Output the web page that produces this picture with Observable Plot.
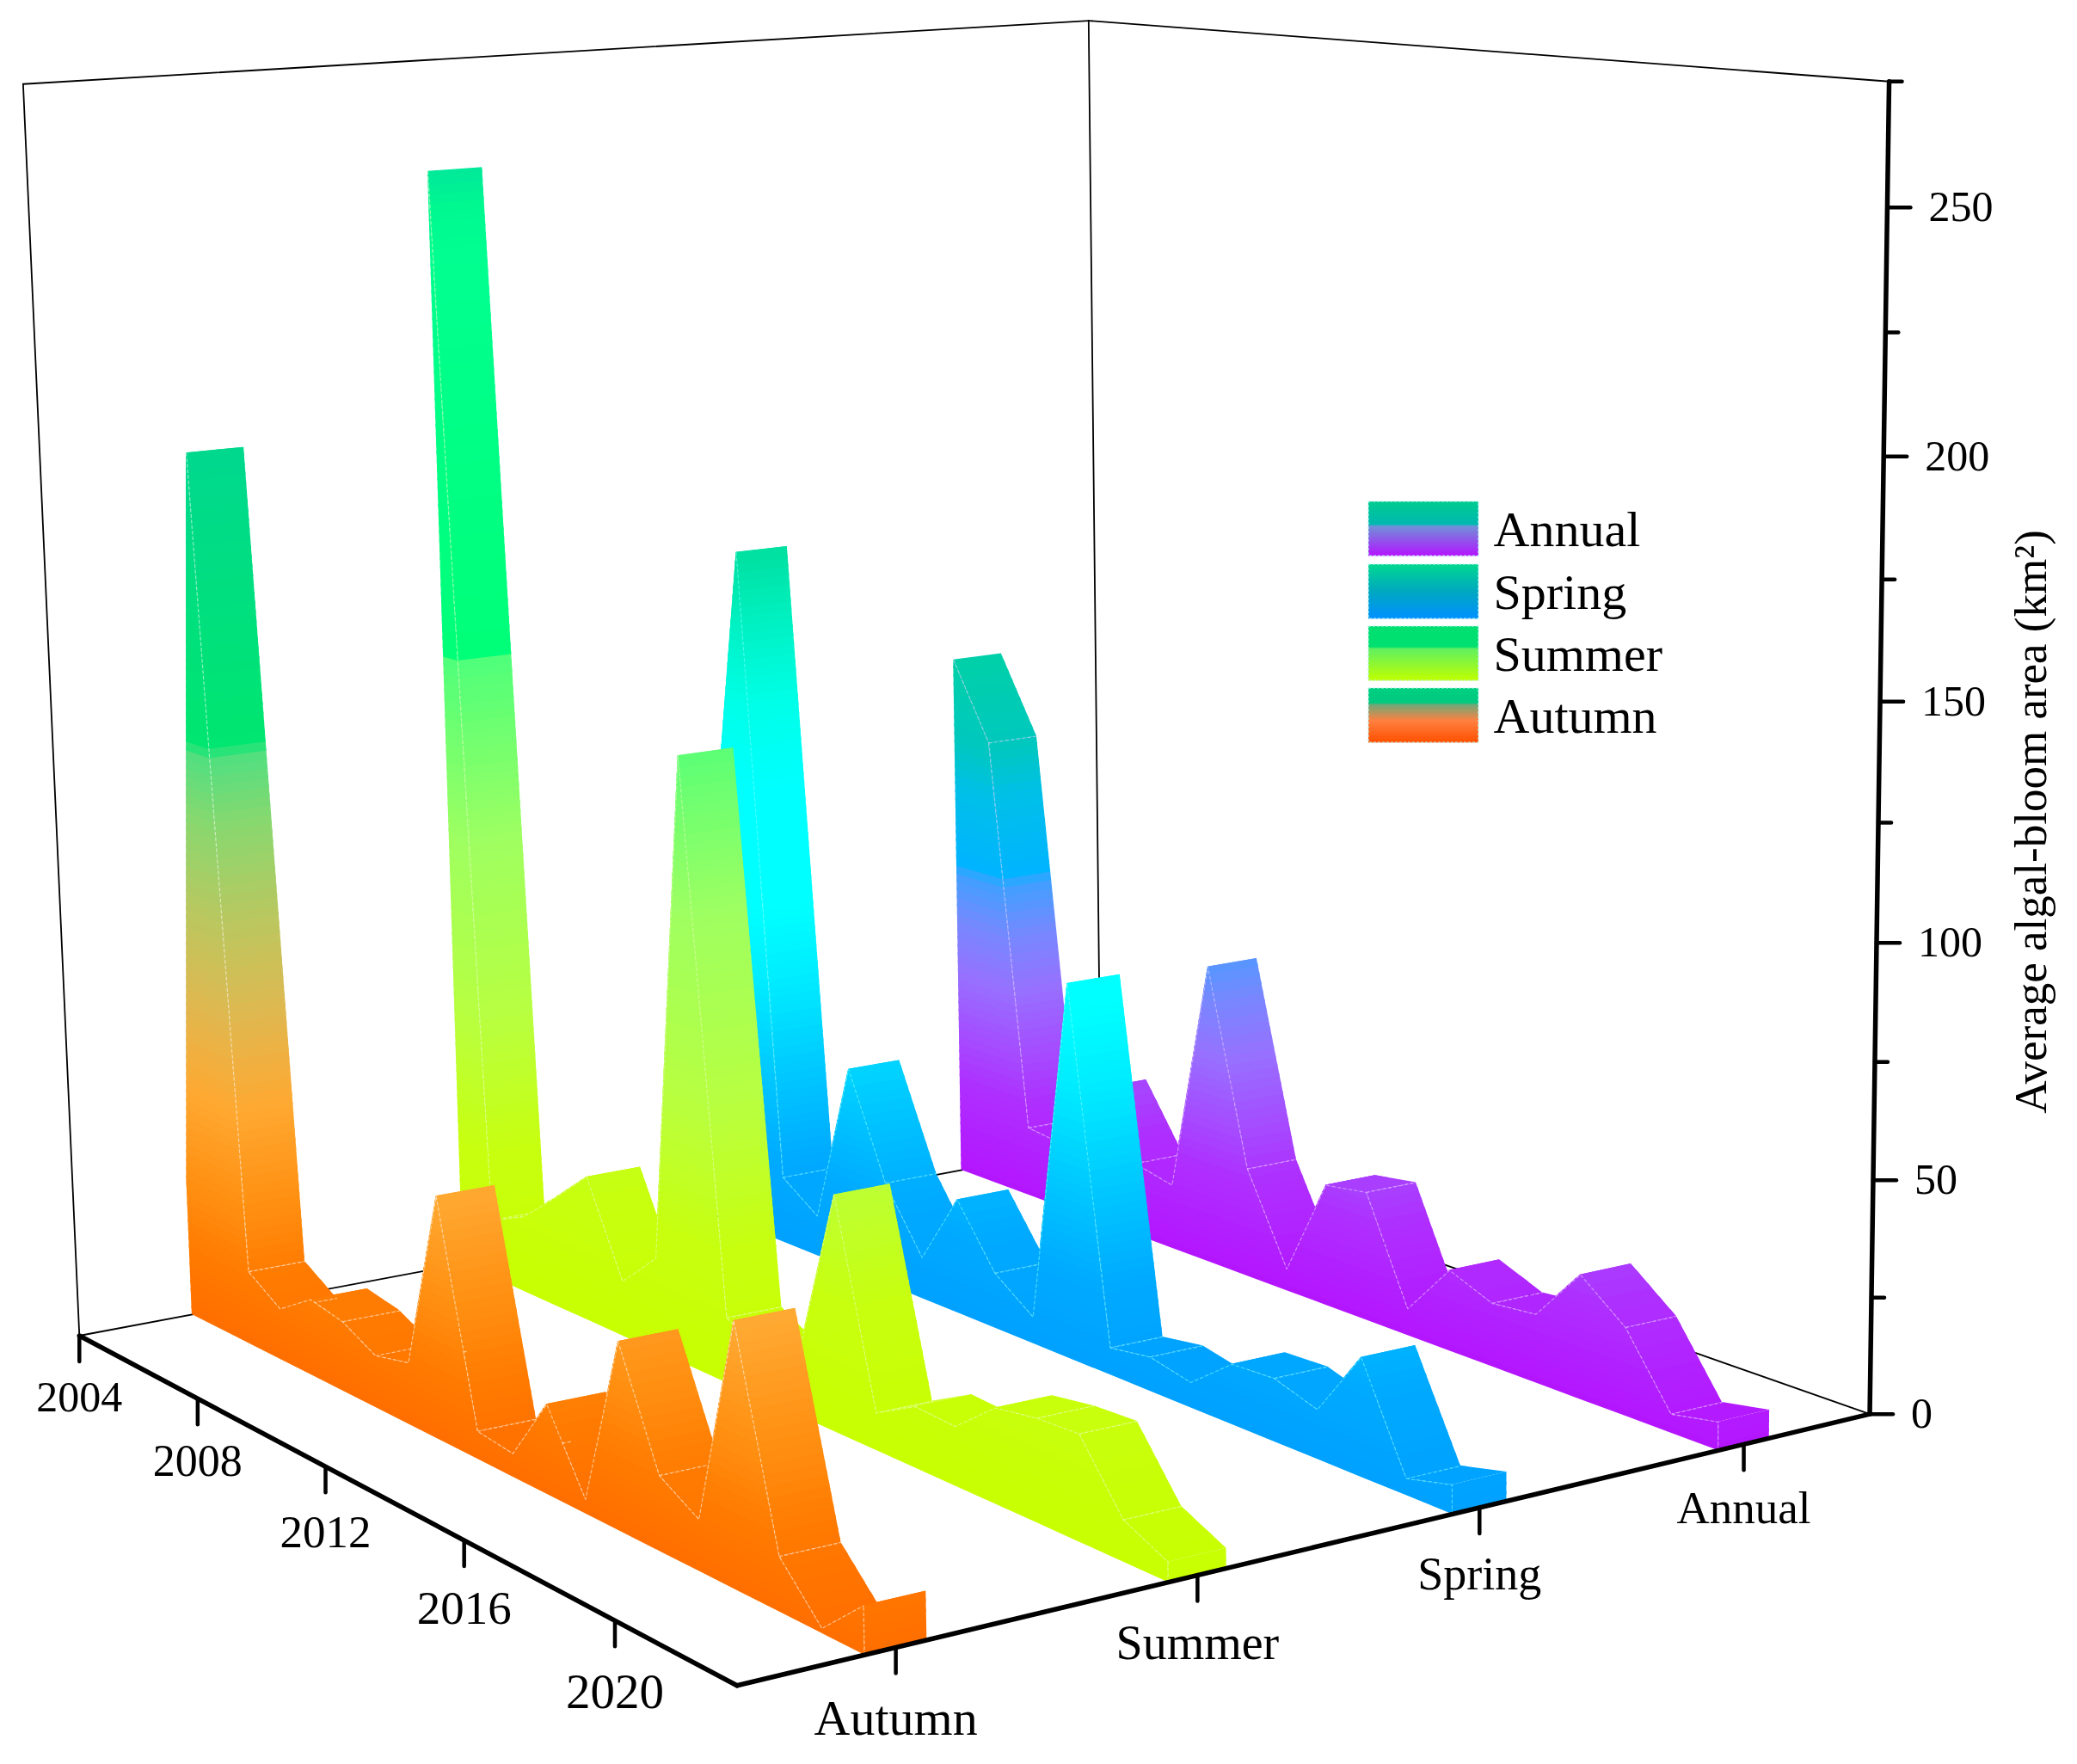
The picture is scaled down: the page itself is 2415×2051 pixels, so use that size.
<!DOCTYPE html>
<html>
<head>
<meta charset="utf-8">
<style>html,body{margin:0;padding:0;background:#fff}svg{display:block}</style>
<script src="https://cdn.jsdelivr.net/npm/d3@7"></script>
<script src="https://cdn.jsdelivr.net/npm/@observablehq/plot@0.6"></script>
</head>
<body>
<div id="chart"></div>
<script>
const years = [2004,2005,2006,2007,2008,2009,2010,2011,2012,2013,2014,2015,2016,2017,2018,2019,2020,2021,2022,2023];
const categories = ["Autumn","Summer","Spring","Annual"];
const autumn = [30,195.3,16.5,11.5,17,15.5,11.5,13.5,52.5,6,5,19,3,39,15.5,10.5,53.5,11,1,9.5];
const summer = [250.5,13.5,17.5,25,33,12.5,21,134,14.5,9.5,14.5,51,8,13,12.5,20,21.5,22,8.5,4];
const spring = [80,160,15.5,9.5,47,23.5,9.5,26,12.5,6,83,6,7.5,5.5,13,13.5,10.5,25,3.5,6];
const annual = [125.5,107.5,16.5,15.5,32,17,15,69,25,5,27.5,29,6,18,14,15,27,19,4,6];
const yearTicks = [2004,2008,2012,2016,2020];
const yearLabelSize = [50,52,53,55,57];
const yearLabelDrop = [72,73.5,76.5,79.5,83];
const categoryLabelSize = [58,56,54,53];
const categoryLabelDrop = [83,80,77.5,75];
const valueTicks = [0,25,50,75,100,125,150,175,200,225,250,275];
const valueLabels = [0,50,100,150,200,250];
const legendNames = ["Annual","Spring","Summer","Autumn"];

const colorStops = {
  Autumn: [[0,"#ff6e00"],[15,"#ff7a00"],[30,"#ff8e10"],[52,"#ffa830"],[73,"#e0b850"],[95,"#b8c860"],[115,"#88d870"],[130,"#50e080"],[132,"#00e670"],[196,"#00d88e"]],
  Summer: [[0,"#c8ff00"],[30,"#c8ff10"],[60,"#b8ff40"],[100,"#9fff60"],[141,"#50ff7a"],[143,"#00ff78"],[232,"#00ff90"],[243,"#00f890"],[251,"#00e89a"]],
  Spring: [[0,"#00a0ff"],[20,"#00aaff"],[40,"#00c8ff"],[60,"#00eaff"],[78,"#00ffff"],[105,"#00ffff"],[125,"#00ffe8"],[145,"#00f0c0"],[160,"#00e0a0"]],
  Annual: [[0,"#b414ff"],[23,"#ae30ff"],[49,"#9870ff"],[62,"#7888ff"],[74,"#40a0ff"],[77,"#00b4ff"],[95,"#00c0e8"],[106,"#00c8c0"],[126,"#00d0a8"]]
};
const legendStops = {
  Annual: [[0,"#00cc90"],[.42,"#00b8b0"],[.46,"#7090d8"],[1,"#b414ff"]],
  Spring: [[0,"#00d890"],[.5,"#00a8c0"],[1,"#0090ff"]],
  Summer: [[0,"#00e070"],[.38,"#00e070"],[.42,"#60f060"],[1,"#c0ff00"]],
  Autumn: [[0,"#00d080"],[.27,"#00c880"],[.31,"#70a878"],[.6,"#ff8040"],[1,"#ff5000"]]
};
const dotColors = {Autumn:"#ffffff",Summer:"#eaffc0",Spring:"#80ffff",Annual:"#ecd0ff"};

const W = 2415, H = 2051, ZMAX = 275, HALF = 0.025;
const font = "Liberation Serif";

// Perspective camera: fitted from the reference's box corners and axis ticks.
const anchors = [
  [0,0,0,92,1552],[1,0,0,856,1958],[1,1,0,2172,1643],[0,1,0,1279,1329],
  [0,0,1,26,97],[0,1,1,1266,24],[1,1,1,2195,94],
  [1,1,50/275,2180,1372],[1,1,200/275,2191,530],[1,1,250/275,2193,241],
  [4/19,0,0,229,1627],[8/19,0,0,378,1705],[12/19,0,0,540,1790],[16/19,0,0,715,1883],
  [1,.125,0,1041,1916],[1,.375,0,1392,1831],[1,.625,0,1719,1755],[1,.875,0,2027,1678]
];
function fitCamera() {
  const rows = [];
  for (const [u,v,w,x,y] of anchors) {
    rows.push([u,v,w,1,0,0,0,0,-x*u,-x*v,-x*w,x]);
    rows.push([0,0,0,0,u,v,w,1,-y*u,-y*v,-y*w,y]);
  }
  const n = 11, A = d3.range(n).map(() => new Array(n+1).fill(0));
  for (const r of rows) for (let i=0;i<n;i++) for (let j=0;j<=n;j++) A[i][j] += r[i]*r[j];
  for (let c=0;c<n;c++) {
    let p=c; for (let r=c+1;r<n;r++) if (Math.abs(A[r][c])>Math.abs(A[p][c])) p=r;
    [A[c],A[p]]=[A[p],A[c]];
    for (let r=0;r<n;r++) if (r!==c) { const f=A[r][c]/A[c][c]; for (let j=c;j<=n;j++) A[r][j]-=f*A[c][j]; }
  }
  return A.map((r,i)=>r[n]/r[i]);
}
const P = fitCamera();
function project(year, v, z) {
  const a = (year-2004)/19, c = z/ZMAX;
  const d = P[8]*a+P[9]*v+P[10]*c+1;
  return [(P[0]*a+P[1]*v+P[2]*c+P[3])/d, (P[4]*a+P[5]*v+P[6]*c+P[7])/d];
}

function ramp(stops) {
  return d3.scaleLinear().domain(stops.map(d=>d[0])).range(stops.map(d=>d[1])).clamp(true);
}

const DZ = 2, OV = 0.7;

function wallMarks(name, values, index) {
  const vc = (index+0.5)/4, v0 = vc-HALF, v1 = vc+HALF;
  const col = ramp(colorStops[name]);
  const n = years.length, zTop = d3.max(values);
  let key = 0;

  // sloped top surface, one small strip per colour band, far to near
  const ribbon = [];
  for (let i=0;i<n-1;i++) {
    const a = values[i], b = values[i+1], lo = Math.min(a,b), hi = Math.max(a,b);
    const cuts = [lo];
    for (let z=Math.ceil(lo/DZ+1e-6)*DZ; z<hi; z+=DZ) cuts.push(z);
    cuts.push(hi);
    for (let j=0;j<cuts.length-1;j++) {
      const zlo = Math.max(lo, cuts[j]-OV), zhi = cuts[j+1], c = col((cuts[j]+zhi)/2);
      key++;
      for (const z of [zlo,zhi]) {
        const t = hi===lo ? (z===zlo?0:1) : (z-a)/(b-a);
        const yr = years[i]+t;
        const f = project(yr,v0,z), k = project(yr,v1,z);
        ribbon.push({x1:f[0],y1:f[1],x2:k[0],y2:k[1],k:key,c});
      }
    }
  }

  // near face and end cap, one area per colour band
  const face = [], cap = [];
  const zEnd = values[n-1];
  for (let zb=0; zb<zTop; zb+=DZ) {
    const b0 = Math.max(0,zb-OV), b1 = zb+DZ, c = col(zb+DZ/2);
    key++;
    const pts = [];
    for (let i=0;i<n;i++) {
      pts.push([years[i],values[i]]);
      if (i<n-1) {
        const a=values[i], b=values[i+1];
        const ts = [b0,b1].filter(z=>(a<z&&b>z)||(a>z&&b<z)).map(z=>(z-a)/(b-a)).sort(d3.ascending);
        for (const t of ts) pts.push([years[i]+t,a+(b-a)*t]);
      }
    }
    for (const [yr,top] of pts) {
      const l = project(yr,v0,Math.min(top,b0)), u = project(yr,v0,Math.min(top,b1));
      face.push({x1:l[0],y1:l[1],x2:u[0],y2:u[1],k:key,c});
    }
    if (zb<zEnd) {
      key++;
      const zh = Math.min(zEnd,b1);
      for (const v of [v0,v1]) {
        const l = project(2023,v,b0), u = project(2023,v,zh);
        cap.push({x1:l[0],y1:l[1],x2:u[0],y2:u[1],k:key,c});
      }
    }
  }

  const pt = (k,yr,v,z) => { const p=project(yr,v,z); return {k,x:p[0],y:p[1]}; };
  // a cross line on a crest reached by a steep rise sits on the white silhouette, so it is not seen
  const cross = years.flatMap((yr,i)=> (i===0 || values[i]-values[i-1]>3) ? [] : [pt(i,yr,v0,values[i]),pt(i,yr,v1,values[i])]);
  const firstDot = values[0]<values[1] ? 1 : 0;
  const front = years.map((yr,i)=>pt("f",yr,v0,values[i])).slice(firstDot);
  front.push(pt("e",2023,v0,0),pt("e",2023,v0,zEnd));

  const dots = {stroke:dotColors[name],strokeWidth:1.2,strokeDasharray:"3.5,3",strokeOpacity:0.55};
  const area = {x1:"x1",y1:"y1",x2:"x2",y2:"y2",z:"k",fill:"c"};
  return [
    Plot.area(ribbon,area),
    Plot.line(cross,{x:"x",y:"y",z:"k",...dots}),
    Plot.area(cap,area),
    Plot.area(face,area),
    Plot.line(front,{x:"x",y:"y",z:"k",...dots})
  ];
}

function edge(a,b,k) {
  const p=project(...a), q=project(...b);
  return [{k,x:p[0],y:p[1]},{k,x:q[0],y:q[1]}];
}
const thinEdges = [
  ...edge([2004,0,0],[2004,0,ZMAX],"a"), ...edge([2004,0,ZMAX],[2004,1,ZMAX],"b"),
  ...edge([2004,1,ZMAX],[2023,1,ZMAX],"c"), ...edge([2004,1,ZMAX],[2004,1,0],"d"),
  ...edge([2004,0,0],[2004,1,0],"e"), ...edge([2004,1,0],[2023,1,0],"f")
];
const thickEdges = [
  ...edge([2004,0,0],[2023,0,0],"g"), ...edge([2023,0,0],[2023,1,0],"h"), ...edge([2023,1,0],[2023,1,ZMAX],"i")
];
const tick = (p,dx,dy) => ({x1:p[0],y1:p[1],x2:p[0]+dx,y2:p[1]+dy});
const yearTickRows = yearTicks.map(y=>tick(project(y,0,0),0,30));
const catTickRows = categories.map((c,i)=>tick(project(2023,(i+.5)/4,0),0,30));
const valueTickRows = valueTicks.map(v=>tick(project(2023,1,v),v%50===0?27:15,0));
const yearLabelRows = yearTicks.map((y,i)=>{const p=project(y,0,0);return {t:String(y),x:p[0],y:p[1]+yearLabelDrop[i],s:yearLabelSize[i]};});
const catLabelRows = categories.map((c,i)=>{const p=project(2023,(i+.5)/4,0);return {t:c,x:p[0],y:p[1]+categoryLabelDrop[i],s:categoryLabelSize[i]};});
const valueLabelRows = valueLabels.map(v=>{const p=project(2023,1,v);return {t:String(v),x:p[0]+48,y:p[1]};});

// legend swatches
const legendTop = [583,656,728,800], legendH = 63, legendX = [1591,1719];
const legendRows = legendNames.flatMap((name,i)=>{
  const st = legendStops[name], c = ramp(st);
  return d3.range(legendH).map(j=>({x1:legendX[0],x2:legendX[1],y1:legendTop[i]+j,y2:legendTop[i]+j+1.4,c:c((j+.5)/legendH)}));
});
const legendFrames = legendNames.map((name,i)=>({x1:legendX[0],x2:legendX[1],y1:legendTop[i],y2:legendTop[i]+legendH}));
const legendText = legendNames.map((name,i)=>({t:name,x:1736,y:legendTop[i]+33}));

const textOpts = {x:"x",y:"y",text:"t",fontFamily:font,fill:"#000"};
const chart = Plot.plot({
  width:W, height:H, margin:0,
  style:{background:"#fff",overflow:"visible"},
  x:{domain:[0,W],range:[0,W],axis:null},
  y:{domain:[0,H],range:[0,H],axis:null},
  color:{type:"identity"},
  marks:[
    Plot.line(thinEdges,{x:"x",y:"y",z:"k",stroke:"#000",strokeWidth:1.8}),
    ...wallMarks("Annual",annual,3),
    ...wallMarks("Spring",spring,2),
    ...wallMarks("Summer",summer,1),
    ...wallMarks("Autumn",autumn,0),
    Plot.line(thickEdges,{x:"x",y:"y",z:"k",stroke:"#000",strokeWidth:5.5,strokeLinecap:"round",strokeLinejoin:"miter"}),
    Plot.link(yearTickRows,{x1:"x1",y1:"y1",x2:"x2",y2:"y2",stroke:"#000",strokeWidth:4.5,strokeLinecap:"round"}),
    Plot.link(catTickRows,{x1:"x1",y1:"y1",x2:"x2",y2:"y2",stroke:"#000",strokeWidth:4.5,strokeLinecap:"round"}),
    Plot.link(valueTickRows,{x1:"x1",y1:"y1",x2:"x2",y2:"y2",stroke:"#000",strokeWidth:4.5,strokeLinecap:"round"}),
    Plot.text(yearLabelRows,{...textOpts,fontSize:"s"}),
    Plot.text(catLabelRows,{...textOpts,fontSize:"s"}),
    Plot.text(valueLabelRows,{...textOpts,fontSize:50,textAnchor:"start"}),
    Plot.text([{t:"Average algal-bloom area (km²)",x:2362,y:955}],{...textOpts,fontSize:53,rotate:-90}),
    Plot.rect(legendRows,{x1:"x1",x2:"x2",y1:"y1",y2:"y2",fill:"c"}),
    Plot.rect(legendFrames,{x1:"x1",x2:"x2",y1:"y1",y2:"y2",fill:"none",stroke:"#b8f4f0",strokeWidth:1.2,strokeDasharray:"3,2"}),
    Plot.text(legendText,{...textOpts,fontSize:58,textAnchor:"start"})
  ]
});
document.getElementById("chart").append(chart);
</script>
</body>
</html>
